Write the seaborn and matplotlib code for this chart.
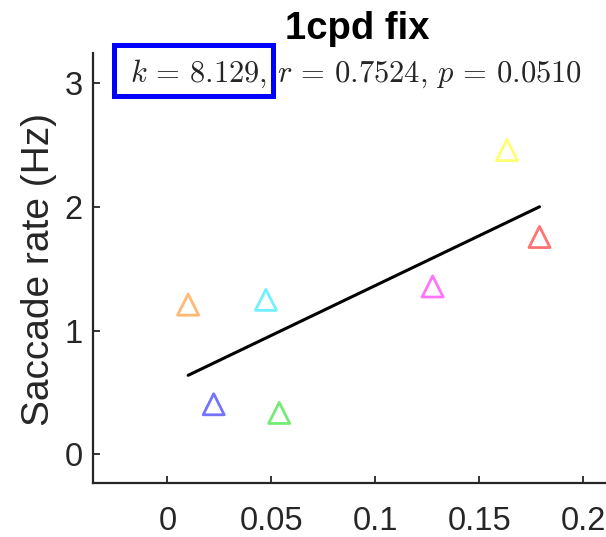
import matplotlib
matplotlib.use("Agg")
import matplotlib.pyplot as plt
import seaborn as sns
import numpy as np
import pandas as pd
from matplotlib.patches import Rectangle

# ---- data ----
subjects = ["s1", "s2", "s3", "s4", "s5", "s6", "s7"]
spatial_freq = [0.0100, 0.0223, 0.0474, 0.0538, 0.1276, 0.1633, 0.1790]
saccade_rate = [1.21, 0.405, 1.249, 0.335, 1.357, 2.46, 1.757]
point_colors = ["#FF8000", "#0000FF", "#00E5FF", "#00DD00", "#FF00FF", "#FFFF00", "#FF0000"]
x_ticks = [0, 0.05, 0.1, 0.15, 0.2]
x_tick_labels = ["0", "0.05", "0.1", "0.15", "0.2"]
y_ticks = [0, 1, 2, 3]
title_text = "1cpd fix"
ylabel_text = "Saccade rate (Hz)"
stats_text = r"$k\,=\,8.129,\,r\,=\,0.7524,\,p\,=\,0.0510$"

df = pd.DataFrame({"subject": subjects, "x": spatial_freq, "y": saccade_rate})

sns.set_theme(style="white")
plt.rcParams["font.family"] = ["Liberation Sans", "DejaVu Sans"]
plt.rcParams["mathtext.fontset"] = "cm"

fig = plt.figure(figsize=(6.06, 5.37), dpi=100)
ax = fig.add_axes([92.7 / 606, 1 - 483.3 / 537, 530 / 606, (483.3 - 52.7) / 537])

# regression line
sns.regplot(data=df, x="x", y="y", ax=ax, scatter=False, ci=None, truncate=True,
            line_kws=dict(color="black", lw=2.2))

# markers
sns.scatterplot(data=df, x="x", y="y", hue="subject", palette=point_colors,
                marker="^", s=230, linewidth=2.0, legend=False, ax=ax, zorder=3)
coll = ax.collections[-1]
ec = coll.get_facecolors().copy()
ec[:, 3] = 0.55
coll.set_edgecolors(ec)
coll.set_facecolors("none")

ax.set_xlim(-0.0359, 0.219)
ax.set_ylim(-0.234, 3.247)
ax.set_xticks(x_ticks)
ax.set_xticklabels(x_tick_labels)
ax.set_yticks(y_ticks)

dark = "#262626"
for s in ["top", "right"]:
    ax.spines[s].set_visible(False)
for s in ["left", "bottom"]:
    ax.spines[s].set_color(dark)
    ax.spines[s].set_linewidth(1.6)

ax.tick_params(axis="both", direction="in", length=5, width=1.3, colors=dark,
               labelsize=23.5, labelcolor=dark, bottom=True, left=True,
               top=False, right=False)
ax.tick_params(axis="x", pad=16)
ax.tick_params(axis="y", pad=7)

ax.set_xlabel("")
ax.set_ylabel(ylabel_text, fontsize=28, color=dark)
ax.yaxis.set_label_coords(-0.068, 0.497)

ax.set_title(title_text, fontsize=27.5, fontweight="bold", color="black", pad=10)

ax.text(0.07, 0.9327, stats_text, transform=ax.transAxes, fontsize=22,
        ha="left", va="baseline", color=dark)

rect = Rectangle((113.5 / 606, 1 - 95.5 / 537), (272.5 - 113.5) / 606, (95.5 - 44.5) / 537,
                 transform=fig.transFigure, fill=False, edgecolor="#0000FF", lw=3.6,
                 clip_on=False, zorder=10)
fig.patches.append(rect)

fig.savefig("out.png", dpi=100)
